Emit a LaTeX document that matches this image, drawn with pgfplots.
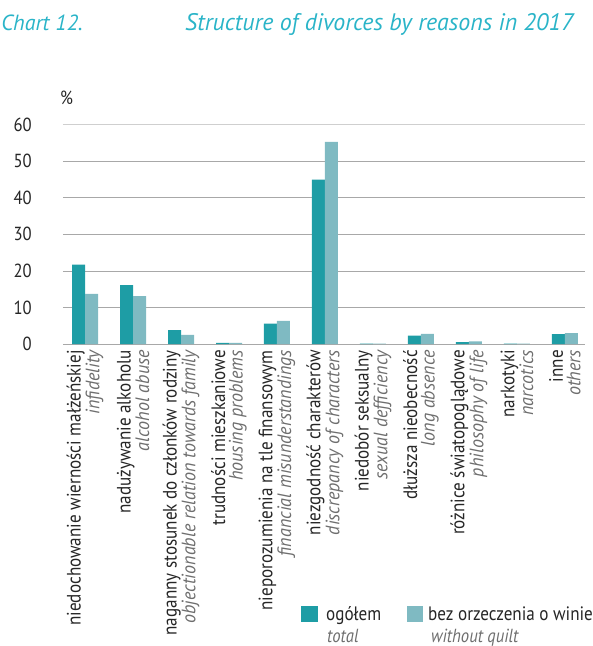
\documentclass[border=0pt]{standalone}
\usepackage{pgfplots}
\pgfplotsset{compat=1.18}
\usepackage{fontspec}
\setmainfont{PT Sans}
\newfontfamily\cond[FakeStretch=0.88]{PT Sans}
\newfontfamily\labfont[FakeStretch=0.88]{PT Sans}
\newfontfamily\labit[FakeStretch=0.93]{PT Sans Italic}
\definecolor{teal1}{HTML}{1E9DA5}
\definecolor{teal2}{HTML}{7FBAC2}
\definecolor{titlecyan}{HTML}{2AB4C8}
\definecolor{txtgray}{HTML}{6E6E6E}
\definecolor{gridgray}{HTML}{A8A8A8}
\newcommand{\en}[1]{\textcolor{txtgray}{\labit #1}}

\begin{document}
\begin{tikzpicture}[x=1bp,y=1bp]
\useasboundingbox (-63,-302) rectangle (530,344);

\begin{axis}[
    at={(0,0)}, anchor=south west,
    scale only axis,
    width=522bp, height=219.3bp,
    ybar=0pt, bar width=13bp,
    xmin=-0.46, xmax=10.42,
    ymin=0, ymax=60,
    axis line style={draw=none},
    major tick length=0pt,
    xtick={0,...,10},
    ytick={0,10,...,50},
    extra y ticks={60},
    extra y tick style={grid style={draw=gridgray!55, line width=0.9bp}},
    ymajorgrids=true,
    grid style={draw=gridgray, line width=0.8bp},
    yticklabel style={font=\fontsize{19}{19}\cond, text=black!85, inner sep=0pt, xshift=-31bp},
    /pgf/number format/assume math mode=true,
    xticklabel shift=6bp,
    xticklabel style={font=\fontsize{19.5}{17.5}\labfont, rotate=90, anchor=east, align=right, inner sep=0pt, text=black!85},
    xticklabels={
      {niedochowanie wierności małżeńskiej\\\en{infidelity}},
      {nadużywanie alkoholu\\\en{alcohol abuse}},
      {naganny stosunek do członków rodziny\\\en{objectionable relation towards family}},
      {trudności mieszkaniowe\\\en{housing problems}},
      {nieporozumienia na tle finansowym\\\en{financial misunderstandings}},
      {niezgodność charakterów\\\en{discrepancy of characters}},
      {niedobór seksualny\\\en{sexual defficiency}},
      {dłuższa nieobecność\\\en{long absence}},
      {różnice światopoglądowe\\\en{philosophy of life}},
      {narkotyki\\\en{narcotics}},
      {inne\\\en{others}}
    },
  ]
  % ogółem / total
  \addplot[draw=none, fill=teal1] coordinates {
    (0,21.7) (1,16.1) (2,3.8) (3,0.3) (4,5.6) (5,45.0)
    (6,0.1) (7,2.3) (8,0.5) (9,0.1) (10,2.7)
  };
  % bez orzeczenia o winie / without guilt
  \addplot[draw=none, fill=teal2] coordinates {
    (0,13.7) (1,13.1) (2,2.5) (3,0.3) (4,6.3) (5,55.3)
    (6,0.1) (7,2.8) (8,0.7) (9,0.1) (10,3.0)
  };
\end{axis}

% titles
\node[anchor=base east, inner sep=0pt, text=titlecyan, font=\fontsize{22}{22}\itshape] at (20,313) {Chart 12.};
\node[anchor=base west, inner sep=0pt, text=titlecyan, font=\fontsize{24}{24}\itshape] at (122,313) {Structure of divorces by reasons in 2017};
\node[anchor=base west, inner sep=0pt, text=black!85, font=\fontsize{19}{19}\cond] at (-3,239) {\%};

% legend
\fill[teal1] (238,-262) rectangle (255,-278);
\node[anchor=base west, inner sep=0pt, text=black!85, font=\fontsize{19.5}{19}\cond] at (263,-276) {ogółem};
\node[anchor=base west, inner sep=0pt, text=txtgray, font=\fontsize{19}{19}\cond\itshape] at (264,-298) {total};
\fill[teal2] (344,-262) rectangle (360,-278);
\node[anchor=base west, inner sep=0pt, text=black!85, font=\fontsize{19.5}{19}\cond] at (365,-276) {bez orzeczenia o winie};
\node[anchor=base west, inner sep=0pt, text=txtgray, font=\fontsize{19}{19}\cond\itshape] at (368,-298) {without quilt};
\end{tikzpicture}
\end{document}
